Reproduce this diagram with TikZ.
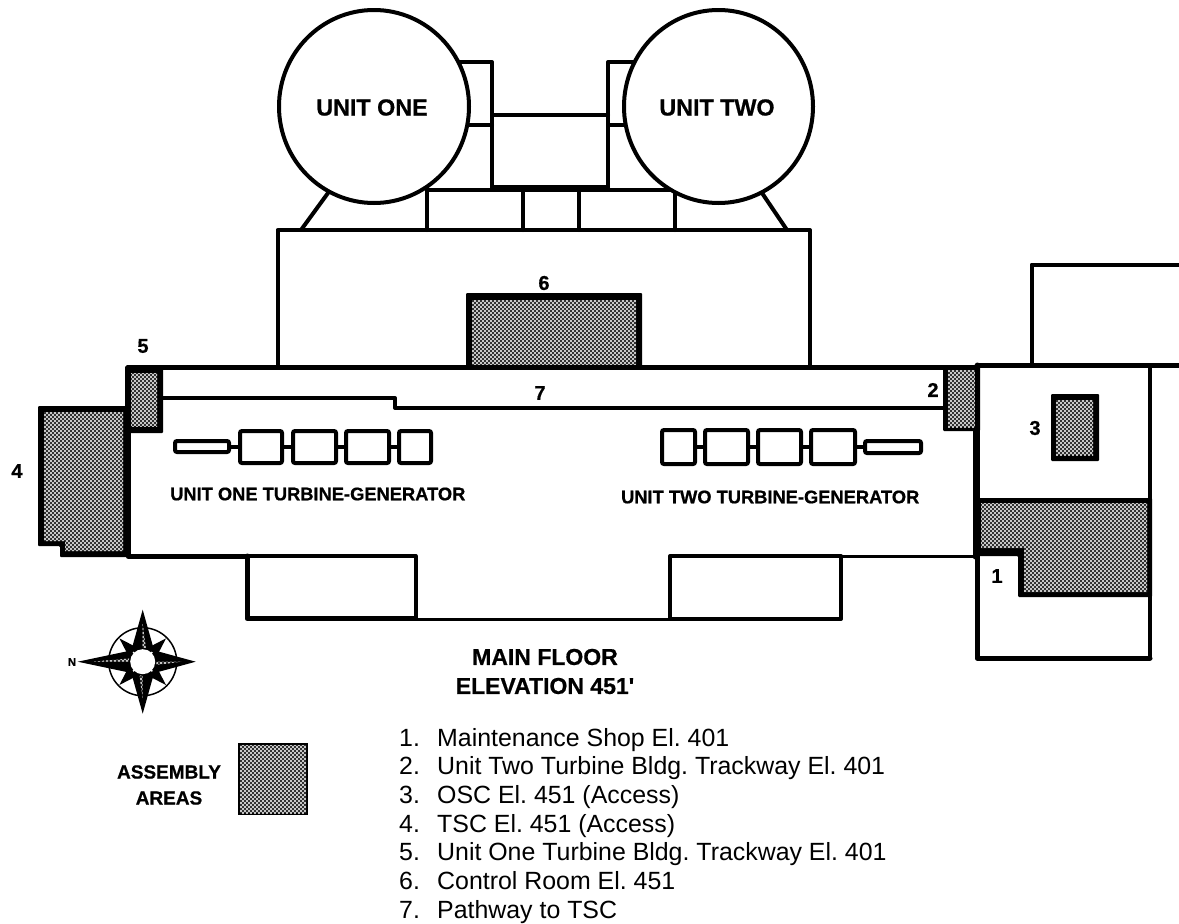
\documentclass[tikz,border=0pt]{standalone}
\usepackage{fontspec}
\setmainfont{Liberation Sans}
\newfontfamily\heavyfont{Liberation Sans}[BoldFeatures={FakeBold=0.7}]
\usetikzlibrary{patterns,shapes.geometric}
\pgfdeclarepatternformonly{asmdots}{\pgfqpoint{-1pt}{-1pt}}{\pgfqpoint{5pt}{5pt}}{\pgfqpoint{4pt}{4pt}}{%
  \pgfpathcircle{\pgfqpoint{1pt}{1pt}}{1.05pt}%
  \pgfpathcircle{\pgfqpoint{3pt}{3pt}}{1.05pt}%
  \pgfusepath{fill}}
\definecolor{hatchbase}{HTML}{2A2A2A}
\tikzset{
  wall/.style={line width=5pt,line join=round,line cap=round},
  midwall/.style={line width=4pt,line join=round,line cap=round},
  thinwall/.style={line width=3pt,line cap=round},
  tg/.style={line width=4pt,rounded corners=2pt,fill=white},
  blk/.style={fill=black,rounded corners=1pt},
  hatch/.style={preaction={fill=hatchbase},pattern=asmdots,pattern color=white},
  lbl/.style={font=\fontsize{20}{20}\selectfont\heavyfont\bfseries,inner sep=0pt},
  captext/.style={font=\fontsize{18.3}{18.3}\selectfont\heavyfont\bfseries,inner sep=0pt},
  asmtext/.style={font=\fontsize{19}{19}\selectfont\heavyfont\bfseries,inner sep=0pt},
  unitlbl/.style={font=\fontsize{23.3}{23.3}\selectfont\heavyfont\bfseries,inner sep=0pt},
  flo/.style={font=\fontsize{23}{23}\selectfont\heavyfont\bfseries,inner sep=0pt},
  lst/.style={font=\fontsize{24.9}{24.9}\selectfont\frenchspacing,inner sep=0pt,anchor=base west}
}
\begin{document}
\begin{tikzpicture}[x=1pt,y=-1pt]
\useasboundingbox (0,0) rectangle (1179,924);
% upper connecting boxes
\draw[midwall] (440,62) -- (492,62) -- (492,187);
\draw[midwall] (608,187) -- (608,62) -- (650,62);
\draw[midwall] (440,125) -- (492,125);
\draw[midwall] (608,125) -- (650,125);
\draw[midwall] (492,115) -- (608,115);
\draw[midwall] (492,187) -- (608,187);
\draw[midwall] (427,190) -- (675,190);
\draw[midwall] (427,190) -- (427,230);
\draw[midwall] (523,190) -- (523,230);
\draw[midwall] (579,190) -- (579,230);
\draw[midwall] (675,190) -- (675,230);
\draw[midwall] (328,193) -- (301,230);
\draw[midwall] (762,193) -- (787,230);
% containments
\node[draw,midwall,fill=white,ellipse,inner sep=0pt,minimum width=190pt,minimum height=193pt] (u1) at (374,106.5) {};
\node[draw,midwall,fill=white,ellipse,inner sep=0pt,minimum width=189pt,minimum height=193pt] (u2) at (718.5,106.5) {};
\node[unitlbl] at (372,107.5) {UNIT ONE};
\node[unitlbl] at (717,107.5) {UNIT TWO};
% auxiliary building
\draw[midwall] (277.5,367) -- (277.5,230) -- (810,230) -- (810,367);
% control room
\fill[blk] (466,293) rectangle (642,369);
\path[hatch] (472,300) rectangle (636,366);
\node[lbl] at (544,283) {6};
% main building
\draw[wall] (128,367) -- (975,367);
\draw[midwall] (162,398) -- (395,398) -- (395,408) -- (945,408);
\draw[wall] (128,433) -- (128,556.5) -- (247,556.5);
\draw[wall] (975,367) -- (975,557);
\draw[thinwall] (841,556.5) -- (975,556.5);
% lower wings
\draw[midwall] (247,556) -- (415.5,556) -- (415.5,618);
\draw[wall] (247,556) -- (247,618.5) -- (415.5,618.5);
\draw[thinwall] (415.5,619) -- (670,619);
\draw[midwall] (670,619) -- (670,556) -- (841,556) -- (841,619) -- cycle;
% assembly areas 5, 2
\fill[blk] (125,366) rectangle (163,433);
\path[hatch] (131,373) rectangle (157,426);
\fill[blk] (943,365) rectangle (980,431);
\path[hatch] (948,370) rectangle (975,427);
% assembly area 4
\fill[blk] (38,406) -- (130,406) -- (130,557) -- (60,557) -- (60,546) -- (38,546) -- cycle;
\path[hatch] (44,412) -- (123,412) -- (123,551) -- (65,551) -- (65,541) -- (44,541) -- cycle;
% turbine one
\draw[midwall] (231,447) -- (238,447);
\draw[midwall] (284,447) -- (291,447);
\draw[midwall] (338,447) -- (344,447);
\draw[midwall] (391,447) -- (397,447);
\draw[tg] (175,441) rectangle (229,452);
\draw[tg] (240,431) rectangle (282,463);
\draw[tg] (293,431) rectangle (336,463);
\draw[tg] (346,431) rectangle (389,463);
\draw[tg] (399,431) rectangle (431,463);
\node[captext,anchor=west] at (170,494) {UNIT ONE TURBINE-GENERATOR};
% turbine two
\draw[midwall] (697,447) -- (703,447);
\draw[midwall] (750,447) -- (756,447);
\draw[midwall] (803,447) -- (809,447);
\draw[midwall] (857,447) -- (863,447);
\draw[tg] (662,430) rectangle (695,464);
\draw[tg] (705,430) rectangle (748,464);
\draw[tg] (758,430) rectangle (801,464);
\draw[tg] (811,430) rectangle (855,464);
\draw[tg] (865,441) rectangle (921,453);
\node[captext,anchor=east] at (919.5,497) {UNIT TWO TURBINE-GENERATOR};
% right block
\draw[midwall] (1031.5,364) -- (1031.5,264.5) -- (1179,264.5);
\draw[wall] (978,365) -- (1179,365);
\draw[midwall] (1150,365) -- (1150,658);
\draw[wall] (977,365) -- (977,658) -- (1150,658);
\fill[blk] (975,498) -- (1152,498) -- (1152,597) -- (1018,597) -- (1018,556) -- (975,556) -- cycle;
\path[hatch] (981,503) -- (1147,503) -- (1147,592) -- (1024,592) -- (1024,548) -- (981,548) -- cycle;
\fill[blk] (1051,394) rectangle (1099,461);
\path[hatch] (1056,400) rectangle (1093,455);
% numbers
\node[lbl] at (997,576) {1};
\node[lbl] at (933,390) {2};
\node[lbl] at (1035,428) {3};
\node[lbl] at (17,471) {4};
\node[lbl] at (143,346) {5};
\node[lbl] at (540,393) {7};
% compass
\begin{scope}[shift={(142.7,661.7)}]
  \draw[line width=1.5pt] (0,0) circle (34);
  \foreach \a in {45,135,225,315}
    \fill ({\a-24}:15) -- (\a:33) -- ({\a+24}:15) -- cycle;
  \foreach \a/\r in {0/53,90/52,180/65,270/52} {
    \fill (\a:\r) -- ({\a+40}:17) -- ({\a+180}:2) -- ({\a-40}:17) -- cycle;
    \path[hatch] (\a:{\r-14}) -- ({\a+13}:14) -- (\a:14) -- cycle;
  }
  \fill[white] (0,0) circle (12.5);
\end{scope}
\node[font=\fontsize{11}{11}\selectfont\heavyfont\bfseries,inner sep=0pt] (north) at (72,662) {N};
% titles
\node[flo] at (545,657) {MAIN FLOOR};
\node[flo] at (545,686) {ELEVATION 451'};
% legend
\draw[line width=2pt,fill=white] (238.5,744) rectangle (307,814);
\path[hatch] (240,745) rectangle (306,813);
\node[asmtext] at (169,772) {ASSEMBLY};
\node[asmtext] at (169,798) {AREAS};
\foreach \n/\t [count=\i from 0] in {1/Maintenance Shop El. 401,2/Unit Two Turbine Bldg. Trackway El. 401,3/OSC El. 451 (Access),4/TSC El. 451 (Access),5/Unit One Turbine Bldg. Trackway El. 401,6/Control Room El. 451,7/Pathway to TSC} {
  \node[lst] at (399,{746+\i*28.7}) {\n.};
  \node[lst] at (437,{746+\i*28.7}) {\t};
}
\end{tikzpicture}
\end{document}
